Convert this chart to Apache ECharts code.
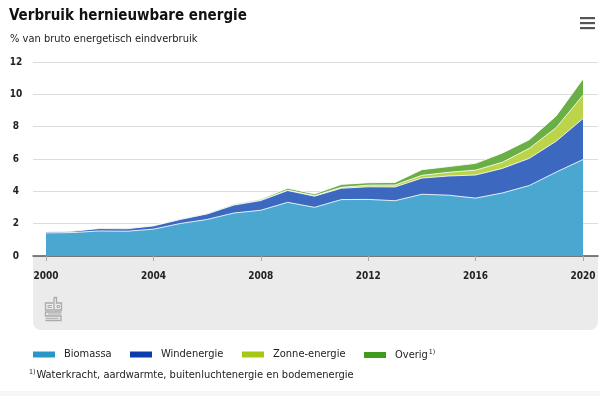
<!DOCTYPE html>
<html>
<head>
<meta charset="utf-8">
<script src="https://cdn.jsdelivr.net/npm/echarts@6/dist/echarts.min.js"></script>
<style>
html,body{margin:0;padding:0;background:#fff;}
#chart{width:600px;height:396px;}
</style>
</head>
<body>
<div id="chart"></div>
<script>
// ---- data ----
const years = [2000,2001,2002,2003,2004,2005,2006,2007,2008,2009,2010,2011,2012,2013,2014,2015,2016,2017,2018,2019,2020];
const biomassa = [1.43,1.45,1.55,1.53,1.66,2.01,2.26,2.66,2.83,3.32,3.01,3.49,3.50,3.42,3.82,3.76,3.58,3.90,4.36,5.19,5.97];
const windenergie = [0.06,0.08,0.15,0.15,0.20,0.25,0.34,0.49,0.60,0.73,0.69,0.70,0.78,0.85,1.00,1.19,1.43,1.52,1.68,1.91,2.53];
const zonneEnergie = [0,0,0,0,0,0,0,0.01,0.01,0.02,0.03,0.06,0.10,0.12,0.17,0.23,0.30,0.38,0.62,0.84,1.45];
const overig = [0.02,0.02,0.03,0.03,0.03,0.04,0.05,0.06,0.07,0.12,0.11,0.18,0.15,0.16,0.35,0.35,0.42,0.57,0.53,0.72,1.00];
const xTickValues = [2000,2004,2008,2012,2016,2020];
const yTickMax = 12;
const yTickStep = 2;
const seriesNames = ['Biomassa','Windenergie','Zonne-energie','Overig'];
const titleText = 'Verbruik hernieuwbare energie';
const subtitleText = '% van bruto energetisch eindverbruik';
const footnoteText = 'Waterkracht, aardwarmte, buitenluchtenergie en bodemenergie';

// ---- styles ----
const FONT = "'Liberation Sans Narrow','DejaVu Sans Condensed',sans-serif";
const legendColors = ['#2a96c8','#0a3cb0','#a6c814','#3f9a1e'];
const areaColors = ['#4aa8d0','#3c68c0','#bcd44a','#6aae46'];
const legendLeft = [33,130,242,364];

const chart = echarts.init(document.getElementById('chart'), null, {renderer:'canvas'});

// cumulative tops of the stacked areas (library needs the stacked table on a value x axis)
const valueSets = [biomassa, windenergie, zonneEnergie, overig];
const cumulative = [];
valueSets.forEach((vals, i) => {
  cumulative.push(vals.map((v, k) => (i ? cumulative[i-1][k] : 0) + v));
});

const series = valueSets.map((vals, i) => ({
  name: seriesNames[i],
  type: 'line',
  showSymbol: false,
  symbol: 'none',
  silent: true,
  data: years.map((y, k) => [y, +cumulative[i][k].toFixed(3)]),
  itemStyle: {color: legendColors[i]},
  lineStyle: {color: 'rgba(255,255,255,0.85)', width: 1},
  areaStyle: {color: areaColors[i], opacity: 1, origin: 'start'},
  z: 10 - i
}));

const legends = seriesNames.map((n, i) => ({
  show: true,
  left: legendLeft[i],
  top: 349,
  padding: 0,
  itemWidth: 22,
  itemHeight: 6,
  icon: 'rect',
  selectedMode: false,
  data: [{name: n, icon: 'rect', itemStyle: {color: legendColors[i], borderWidth: 0}}],
  lineStyle: {width: 0},
  itemStyle: {borderWidth: 0},
  formatter: n === 'Overig' ? '{a|' + n + '}{sup|1)}' : '{a|' + n + '}',
  textStyle: {
    fontFamily: FONT, fontSize: 11, color: '#222', padding: [0,0,0,4],
    rich: {
      a: {fontFamily: FONT, fontSize: 11, color: '#222'},
      sup: {fontFamily: FONT, fontSize: 7, color: '#222', verticalAlign: 'top', padding: [0,0,5,1]}
    }
  }
}));

const option = {
  backgroundColor: '#fff',
  animation: false,
  title: [
    {text: titleText, left: 9, top: 9, padding: 0,
     textStyle: {fontFamily: FONT, fontSize: 15, fontWeight: 'bold', color: '#111'}},
    {text: subtitleText, left: 10, top: 34, padding: 0,
     textStyle: {fontFamily: FONT, fontSize: 11, fontWeight: 'normal', color: '#222'}}
  ],
  legend: legends,
  grid: {left: 33, right: 2, top: 62, bottom: 140, containLabel: false},
  xAxis: {
    type: 'value',
    min: 2000 - 13/26.85,
    max: 2020 + 15/26.85,
    splitLine: {show: false},
    axisLine: {show: true, onZero: false, lineStyle: {color: '#555', width: 1.5}},
    axisTick: {show: true, customValues: xTickValues, length: 5, lineStyle: {color: '#aaa', width: 1}},
    axisLabel: {show: true, customValues: xTickValues, margin: 15, fontFamily: FONT, fontSize: 10, fontWeight: 'bold', color: '#222',
      formatter: v => String(v)}
  },
  yAxis: {
    type: 'value',
    min: 0,
    max: yTickMax,
    interval: yTickStep,
    axisLine: {show: false},
    axisTick: {show: false},
    splitLine: {show: true, lineStyle: {color: '#dcdcdc', width: 1}},
    axisLabel: {margin: 17, align: 'center', fontFamily: FONT, fontSize: 10, fontWeight: 'bold', color: '#222'}
  },
  graphic: [
    {type: 'rect', z: -1, shape: {x: 33, y: 256, width: 565, height: 74, r: [0,0,8,8]}, style: {fill: '#ebebeb'}},
    {type: 'rect', z: -1, shape: {x: 0, y: 391, width: 600, height: 5}, style: {fill: '#f6f6f6'}},
    // hamburger menu
    {type: 'rect', shape: {x: 580, y: 17, width: 15, height: 2.2}, style: {fill: '#555'}},
    {type: 'rect', shape: {x: 580, y: 22, width: 15, height: 2.2}, style: {fill: '#555'}},
    {type: 'rect', shape: {x: 580, y: 27, width: 15, height: 2.2}, style: {fill: '#555'}},
    // cbs logo (outline)
    {type: 'group', left: 43, top: 295, children: [
      {type: 'polyline', shape: {points: [[8,6],[0.5,6],[0.5,13],[8,13]]}, style: {stroke: '#aaa', lineWidth: 1.3, fill: null}},
      {type: 'polyline', shape: {points: [[7,8.5],[3,8.5],[3,10.5],[7,10.5]]}, style: {stroke: '#aaa', lineWidth: 1, fill: null}},
      {type: 'polyline', shape: {points: [[9,0.5],[9,13],[16.5,13],[16.5,6],[11.5,6],[11.5,0.5],[9,0.5]]}, style: {stroke: '#aaa', lineWidth: 1.3, fill: null}},
      {type: 'rect', shape: {x: 12, y: 8.5, width: 2.5, height: 2}, style: {stroke: '#aaa', lineWidth: 1, fill: null}},
      {type: 'polyline', shape: {points: [[16.5,15],[0.5,15],[0.5,19],[16,19],[16,23.5],[0.5,23.5]]}, style: {stroke: '#aaa', lineWidth: 1.3, fill: null}},
      {type: 'polyline', shape: {points: [[16.5,17],[3,17]]}, style: {stroke: '#aaa', lineWidth: 1, fill: null}},
      {type: 'polyline', shape: {points: [[13.5,21.3],[0.5,21.3]]}, style: {stroke: '#aaa', lineWidth: 1, fill: null}}
    ]},
    // footnote
    {type: 'text', left: 29, top: 369, style: {
      text: '{sup|1)}{a|' + footnoteText + '}',
      rich: {
        a: {fontFamily: FONT, fontSize: 11, fill: '#222'},
        sup: {fontFamily: FONT, fontSize: 7, fill: '#222', verticalAlign: 'top', padding: [0,1,5,0]}
      }
    }}
  ],
  series: series
};
chart.setOption(option);
</script>
</body>
</html>
